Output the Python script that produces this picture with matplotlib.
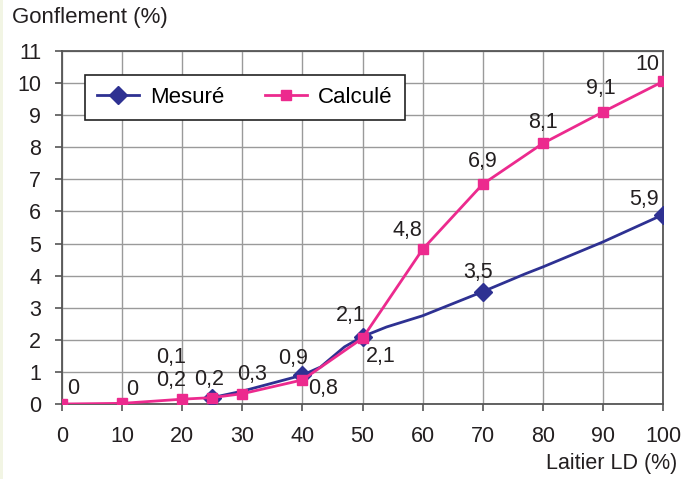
import numpy as np
import matplotlib
matplotlib.use('Agg')
import matplotlib.pyplot as plt
from matplotlib.patches import Rectangle

plt.rcParams['font.family'] = ['Liberation Sans', 'DejaVu Sans']
plt.rcParams['font.size'] = 16

# Mesuré : line path (smoothed curve) and the points carrying markers
mes_x = [25, 30, 40, 43, 47, 50, 54, 60, 70, 77, 80, 90, 100]
mes_y = [0.2, 0.4, 0.9, 1.15, 1.78, 2.1, 2.4, 2.75, 3.5, 4.05, 4.27, 5.05, 5.9]
mes_mark_x = [25, 40, 50, 70, 100]

# Calculé
cal_x = [0, 10, 20, 25, 30, 40, 50, 60, 70, 80, 90, 100]
cal_y = [0, 0.02, 0.15, 0.2, 0.32, 0.75, 2.05, 4.82, 6.85, 8.12, 9.1, 10.05]

# data labels: (x, y, text, offset in pixels)
labels = [
    (0, 0, '0', (11, 15)),
    (10, 0.02, '0', (10, 14)),
    (20, 0.15, '0,1', (-11, 42)),
    (20, 0.15, '0,2', (-11, 19)),
    (25, 0.2, '0,2', (-3, 18)),
    (30, 0.32, '0,3', (10, 19)),
    (40, 0.9, '0,9', (-9, 17)),
    (40, 0.75, '0,8', (21, -9)),
    (50, 2.1, '2,1', (-12, 21)),
    (50, 2.05, '2,1', (18, -18)),
    (60, 4.82, '4,8', (-15, 19)),
    (70, 3.5, '3,5', (-5, 19)),
    (70, 6.85, '6,9', (0, 23)),
    (80, 8.12, '8,1', (0, 21)),
    (90, 9.1, '9,1', (-2, 23)),
    (100, 10.05, '10', (-16, 17)),
    (100, 5.9, '5,9', (-19, 15)),
]

blue = '#2E3192'
pink = '#EC2A8E'

fig = plt.figure(figsize=(6.85, 4.79), dpi=100)
fig.patches.append(Rectangle((0, 0), 3 / 685, 1, transform=fig.transFigure,
                             facecolor='#F2F5E4', edgecolor='none'))
ax = fig.add_axes([62 / 685, 1 - 404 / 479, 601 / 685, 353 / 479])

mi = [mes_x.index(v) for v in mes_mark_x]
ax.plot(mes_x, mes_y, color=blue, lw=2, marker='D', ms=9, markevery=mi,
        zorder=3, label='Mesuré')
ax.plot(cal_x, cal_y, color=pink, lw=2, marker='s', ms=7, zorder=4,
        label='Calculé')

for x, y, t, off in labels:
    ax.annotate(t, (x, y), xytext=(off[0] * 0.72, off[1] * 0.72),
                textcoords='offset points', ha='center', va='center',
                color='#231F20', fontsize=15.5)

ax.set_xlim(0, 100)
ax.set_ylim(0, 11)
ax.set_xticks(np.arange(0, 101, 10))
ax.set_yticks(np.arange(0, 12, 1))
ax.grid(True, color='#9A9A9A', lw=1)
ax.set_axisbelow(True)
for s in ax.spines.values():
    s.set_color('#555555')
    s.set_linewidth(1.3)
ax.tick_params(direction='out', length=5, width=1.2, color='#555555',
               labelcolor='#231F20', labelsize=15.5)
ax.tick_params(axis='x', pad=11)
ax.tick_params(axis='y', pad=10)

fig.text(12 / 685, 1 - 17 / 479, 'Gonflement (%)', ha='left', va='center',
         color='#231F20')
fig.text(1 - 8 / 685, 1 - 463 / 479, 'Laitier LD (%)', ha='right', va='center',
         color='#231F20', fontsize=15.5)

leg = ax.legend(loc='upper left', bbox_to_anchor=(0.038, 0.932), ncol=2,
                borderaxespad=0, fancybox=False, framealpha=1,
                edgecolor='#222222', handlelength=1.9, handletextpad=0.5,
                columnspacing=1.8, borderpad=0.55)
leg.get_frame().set_linewidth(1.2)

fig.savefig('out.png', dpi=100)
